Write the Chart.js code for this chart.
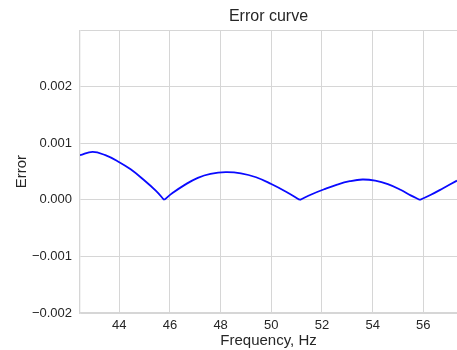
<!DOCTYPE html>
<html>
<head>
<meta charset="utf-8">
<script src="https://cdn.jsdelivr.net/npm/chart.js@4"></script>
<style>
  html, body { margin: 0; padding: 0; background: #fff; }
  #wrap { width: 457px; height: 350px; }
</style>
</head>
<body>
<div id="wrap"><canvas id="errorChart" width="457" height="350"></canvas></div>
<script>
// Error curve, one lobe at a time (cusps at the zeros)
const lobe1Freq = [42.45, 42.95, 43.45, 43.95, 44.45, 44.95, 45.45, 45.77];
const lobe1Err = [0.00079, 0.00085, 0.00079, 0.00068, 0.00054, 0.00036, 0.00016, 0];
const lobe2Freq = [45.77, 46.1, 46.6, 47.1, 47.6, 48.2, 48.8, 49.4, 50.0, 50.6, 51.13];
const lobe2Err = [0, 0.00012, 0.00027, 0.00039, 0.00046, 0.00049, 0.00047, 0.0004, 0.00028, 0.00014, 0];
const lobe3Freq = [51.13, 51.6, 52.1, 52.6, 53.1, 53.6, 54.1, 54.6, 55.1, 55.5, 55.87];
const lobe3Err = [0, 0.0001, 0.00019, 0.00027, 0.00033, 0.00036, 0.00034, 0.00028, 0.00018, 0.00008, 0];
const lobe4Freq = [55.87, 56.3, 56.8, 57.33];
const lobe4Err = [0, 0.00009, 0.00021, 0.00034];

const xTicks = [44, 46, 48, 50, 52, 54, 56];
const yTicks = [-0.002, -0.001, 0, 0.001, 0.002, 0.003];

const lobes = [
  [lobe1Freq, lobe1Err],
  [lobe2Freq, lobe2Err],
  [lobe3Freq, lobe3Err],
  [lobe4Freq, lobe4Err]
];

const textColor = '#262626';
const gridColor = '#d6d6d6';
const fontFamily = "'Liberation Sans', Arial, sans-serif";

const datasets = lobes.map(([fs, es]) => ({
  data: fs.map((f, i) => ({ x: f, y: es[i] })),
  borderColor: '#0a0aff',
  borderWidth: 1.8,
  pointRadius: 0,
  fill: false,
  tension: 0.4
}));

new Chart(document.getElementById('errorChart'), {
  type: 'line',
  data: { datasets },
  options: {
    responsive: false,
    animation: false,
    layout: { padding: 0 },
    plugins: {
      legend: { display: false },
      tooltip: { enabled: false },
      title: {
        display: true,
        text: 'Error curve',
        fullSize: false,
        color: textColor,
        font: { family: fontFamily, size: 16, weight: 'normal' },
        padding: { top: 7, bottom: 4 }
      }
    },
    scales: {
      x: {
        type: 'linear',
        min: 42.45,
        max: 57.33,
        afterBuildTicks: (scale) => { scale.ticks = xTicks.map(v => ({ value: v })); },
        afterFit: (scale) => { scale.height = 37; },
        grid: { color: gridColor, drawTicks: false },
        border: { color: gridColor, width: 1.3 },
        ticks: {
          color: textColor,
          padding: 5,
          font: { family: fontFamily, size: 13 },
          callback: (v) => String(v)
        },
        title: {
          display: true,
          text: 'Frequency, Hz',
          color: textColor,
          font: { family: fontFamily, size: 15 },
          padding: { top: 0, bottom: 0 }
        }
      },
      y: {
        min: -0.002,
        max: 0.003,
        afterBuildTicks: (scale) => { scale.ticks = yTicks.map(v => ({ value: v })); },
        afterFit: (scale) => { scale.width = 80; },
        grid: { color: gridColor, drawTicks: false },
        border: { color: gridColor, width: 1.3 },
        ticks: {
          color: textColor,
          padding: 8,
          font: { family: fontFamily, size: 13 },
          callback: (v) => v > 0.0025 ? '' : v.toFixed(3).replace('-', '\u2212')
        },
        title: {
          display: true,
          text: 'Error',
          color: textColor,
          font: { family: fontFamily, size: 15 },
          padding: { top: 13, bottom: 0 }
        }
      }
    }
  }
});
</script>
</body>
</html>
